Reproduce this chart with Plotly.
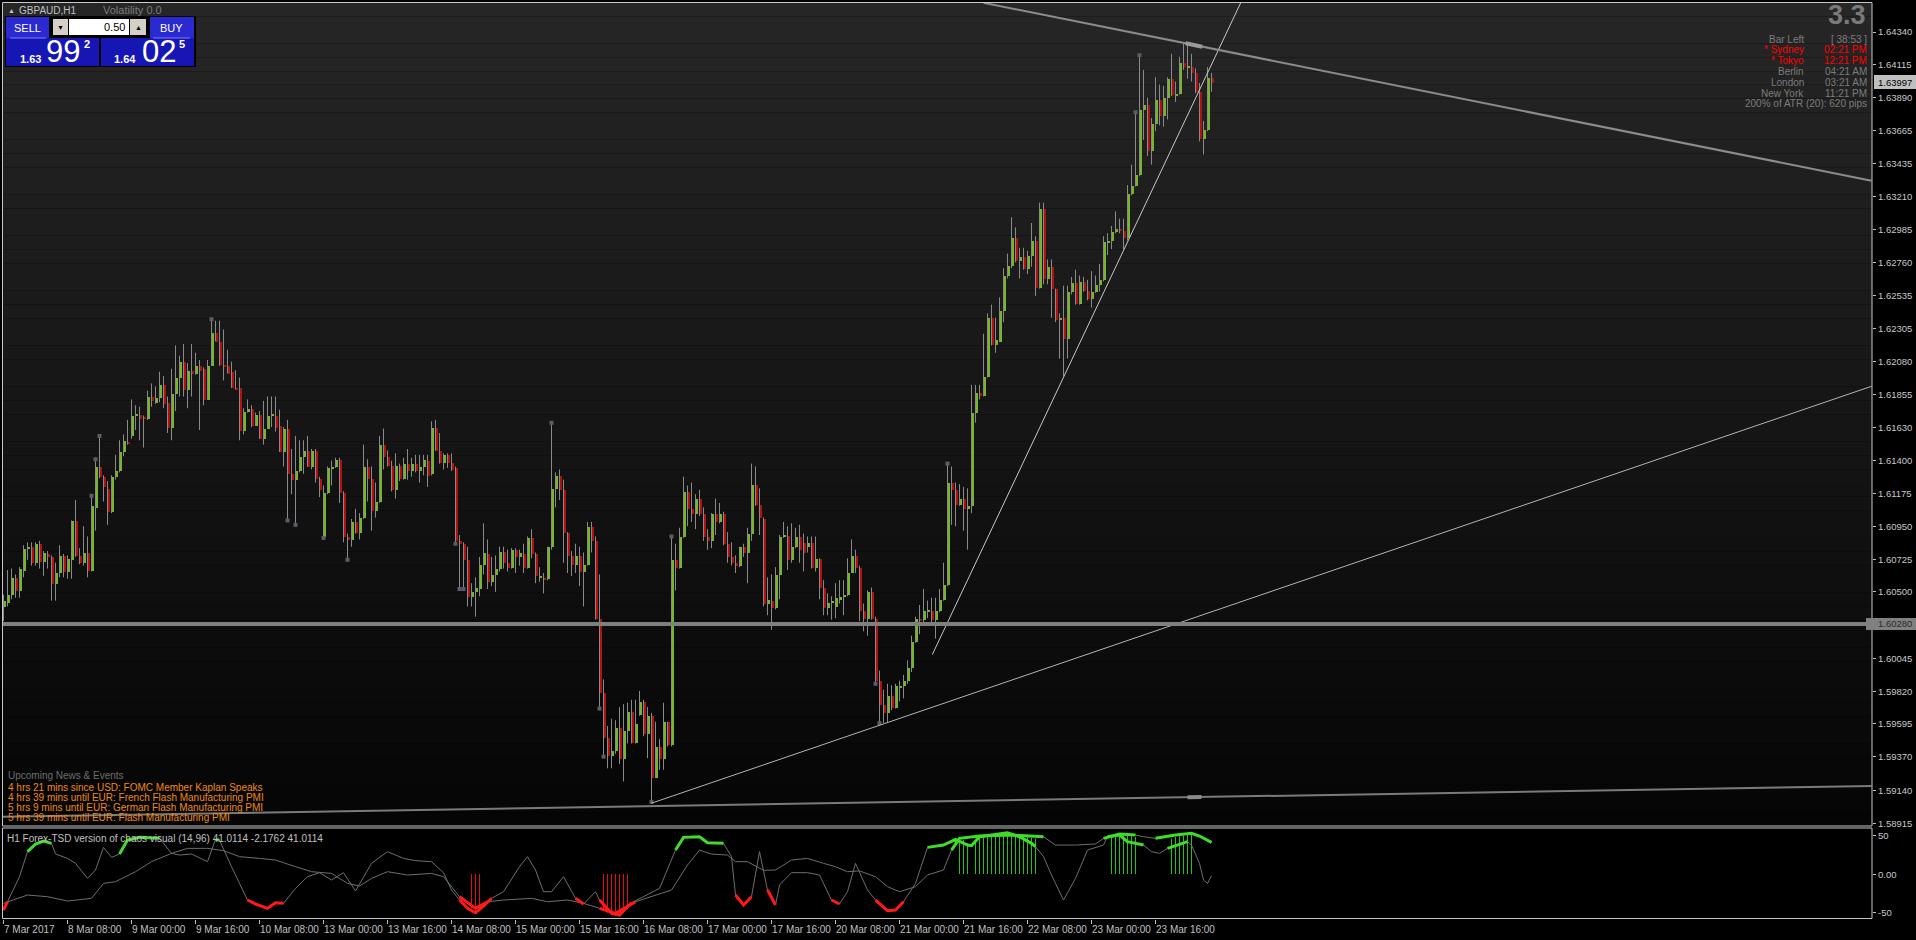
import plotly.graph_objects as go

W, H = 1916, 940

# ---------------- data (GBPAUD H1) ----------------
opens = [1.6040,1.6043,1.6048,1.6060,1.6051,1.6065,1.6080,1.6081,1.6070,1.6083,1.6071,1.6076,1.6074,1.6056,1.6063,1.6075,1.6064,1.6072,1.6099,1.6075,
1.6070,1.6077,1.6065,1.6108,1.6136,1.6129,1.6121,1.6105,1.6129,1.6133,1.6146,1.6153,1.6157,1.6171,1.6172,1.6170,1.6169,1.6184,1.6180,1.6183,
1.6192,1.6180,1.6163,1.6186,1.6197,1.6208,1.6189,1.6202,1.6200,1.6205,1.6203,1.6182,1.6205,1.6228,1.6222,1.6206,1.6205,1.6201,1.6190,1.6190,
1.6161,1.6174,1.6176,1.6164,1.6172,1.6155,1.6162,1.6171,1.6171,1.6164,1.6146,1.6162,1.6131,1.6127,1.6133,1.6143,1.6147,1.6136,1.6147,1.6128,
1.6088,1.6118,1.6135,1.6136,1.6141,1.6118,1.6088,1.6086,1.6098,1.6091,1.6101,1.6136,1.6128,1.6106,1.6112,1.6151,1.6143,1.6137,1.6120,1.6137,
1.6128,1.6138,1.6133,1.6138,1.6133,1.6136,1.6140,1.6131,1.6163,1.6147,1.6139,1.6144,1.6139,1.6135,1.6085,1.6083,1.6072,1.6047,1.6050,1.6052,
1.6069,1.6076,1.6057,1.6062,1.6066,1.6078,1.6070,1.6067,1.6079,1.6074,1.6076,1.6067,1.6087,1.6076,1.6060,1.6060,1.6059,1.6081,1.6121,1.6130,
1.6120,1.6091,1.6075,1.6069,1.6075,1.6064,1.6069,1.6095,1.6085,1.6032,1.5981,1.5950,1.5938,1.5941,1.5957,1.5936,1.5955,1.5968,1.5947,1.5966,
1.5975,1.5953,1.5965,1.5923,1.5944,1.5936,1.5961,1.5945,1.6072,1.6067,1.6088,1.6119,1.6107,1.6104,1.6114,1.6104,1.6088,1.6085,1.6104,1.6098,
1.6104,1.6083,1.6074,1.6070,1.6068,1.6081,1.6077,1.6090,1.6124,1.6110,1.6100,1.6042,1.6044,1.6039,1.6062,1.6088,1.6089,1.6072,1.6081,1.6088,
1.6084,1.6081,1.6084,1.6067,1.6073,1.6053,1.6039,1.6043,1.6040,1.6045,1.6047,1.6048,1.6063,1.6075,1.6067,1.6037,1.6032,1.6050,1.6032,1.5989,
1.5973,1.5967,1.5979,1.5971,1.5985,1.5986,1.5989,1.5998,1.6016,1.6032,1.6031,1.6037,1.6037,1.6031,1.6037,1.6045,1.6055,1.6125,1.6120,1.6110,
1.6114,1.6107,1.6109,1.6173,1.6187,1.6185,1.6198,1.6238,1.6220,1.6222,1.6243,1.6267,1.6274,1.6293,1.6277,1.6280,1.6272,1.6281,1.6291,1.6259,
1.6313,1.6265,1.6273,1.6258,1.6237,1.6238,1.6224,1.6256,1.6262,1.6248,1.6263,1.6257,1.6251,1.6256,1.6261,1.6264,1.6290,1.6291,1.6297,1.6299,
1.6298,1.6293,1.6323,1.6329,1.6336,1.6381,1.6384,1.6353,1.6371,1.6388,1.6377,1.6389,1.6402,1.6391,1.6392,1.6413,1.6410,1.6410,1.6406,1.6393,
1.6361,1.6367,1.6403]
highs = [1.6048,1.6065,1.6066,1.6062,1.6067,1.6082,1.6084,1.6084,1.6084,1.6085,1.6078,1.6078,1.6075,1.6070,1.6082,1.6076,1.6075,1.6099,1.6113,1.6080,
1.6095,1.6088,1.6116,1.6141,1.6157,1.6130,1.6126,1.6130,1.6144,1.6154,1.6158,1.6168,1.6182,1.6178,1.6177,1.6171,1.6188,1.6193,1.6191,1.6201,
1.6198,1.6184,1.6203,1.6219,1.6212,1.6220,1.6207,1.6220,1.6214,1.6209,1.6204,1.6209,1.6237,1.6236,1.6236,1.6230,1.6216,1.6208,1.6202,1.6197,
1.6176,1.6182,1.6178,1.6173,1.6174,1.6181,1.6184,1.6184,1.6184,1.6175,1.6163,1.6168,1.6148,1.6157,1.6154,1.6154,1.6157,1.6148,1.6148,1.6129,
1.6123,1.6136,1.6140,1.6142,1.6142,1.6119,1.6090,1.6100,1.6107,1.6104,1.6151,1.6141,1.6136,1.6125,1.6157,1.6162,1.6147,1.6140,1.6145,1.6138,
1.6142,1.6148,1.6142,1.6144,1.6144,1.6144,1.6144,1.6167,1.6168,1.6159,1.6145,1.6145,1.6145,1.6136,1.6089,1.6084,1.6081,1.6056,1.6060,1.6074,
1.6097,1.6086,1.6074,1.6075,1.6081,1.6081,1.6079,1.6080,1.6080,1.6079,1.6083,1.6088,1.6093,1.6077,1.6067,1.6063,1.6081,1.6166,1.6132,1.6134,
1.6127,1.6091,1.6078,1.6083,1.6081,1.6077,1.6098,1.6098,1.6088,1.6062,1.5990,1.5958,1.5963,1.5962,1.5971,1.5973,1.5974,1.5976,1.5976,1.5982,
1.5976,1.5971,1.5967,1.5961,1.5949,1.5974,1.5961,1.6088,1.6083,1.6094,1.6129,1.6123,1.6125,1.6117,1.6120,1.6108,1.6093,1.6104,1.6114,1.6111,
1.6105,1.6091,1.6084,1.6075,1.6081,1.6083,1.6094,1.6138,1.6136,1.6121,1.6101,1.6060,1.6062,1.6067,1.6089,1.6098,1.6095,1.6097,1.6094,1.6096,
1.6090,1.6088,1.6088,1.6088,1.6073,1.6058,1.6049,1.6047,1.6056,1.6058,1.6058,1.6073,1.6086,1.6079,1.6068,1.6042,1.6051,1.6053,1.6033,1.5996,
1.5983,1.5987,1.5986,1.5987,1.5989,1.5993,1.6003,1.6020,1.6033,1.6041,1.6052,1.6044,1.6046,1.6046,1.6052,1.6070,1.6138,1.6136,1.6125,1.6124,
1.6122,1.6121,1.6192,1.6192,1.6192,1.6227,1.6241,1.6247,1.6238,1.6252,1.6272,1.6282,1.6307,1.6300,1.6286,1.6286,1.6284,1.6303,1.6294,1.6317,
1.6317,1.6278,1.6278,1.6258,1.6241,1.6260,1.6260,1.6266,1.6271,1.6267,1.6266,1.6264,1.6270,1.6267,1.6275,1.6294,1.6296,1.6301,1.6311,1.6306,
1.6306,1.6329,1.6343,1.6379,1.6418,1.6408,1.6389,1.6375,1.6403,1.6398,1.6397,1.6403,1.6419,1.6400,1.6417,1.6426,1.6426,1.6419,1.6409,1.6399,
1.6373,1.6410,1.6406]
lows = [1.6030,1.6040,1.6045,1.6046,1.6046,1.6060,1.6072,1.6068,1.6068,1.6066,1.6061,1.6066,1.6044,1.6044,1.6060,1.6060,1.6059,1.6059,1.6074,1.6069,
1.6068,1.6060,1.6064,1.6092,1.6128,1.6112,1.6096,1.6104,1.6127,1.6132,1.6143,1.6151,1.6155,1.6161,1.6154,1.6149,1.6168,1.6177,1.6179,1.6180,
1.6176,1.6159,1.6154,1.6174,1.6184,1.6184,1.6176,1.6184,1.6199,1.6161,1.6178,1.6182,1.6205,1.6222,1.6205,1.6195,1.6200,1.6190,1.6189,1.6154,
1.6158,1.6173,1.6163,1.6164,1.6155,1.6151,1.6162,1.6163,1.6160,1.6146,1.6136,1.6099,1.6117,1.6096,1.6132,1.6131,1.6136,1.6134,1.6125,1.6115,
1.6087,1.6117,1.6123,1.6135,1.6111,1.6084,1.6072,1.6081,1.6090,1.6086,1.6100,1.6112,1.6092,1.6101,1.6111,1.6134,1.6136,1.6119,1.6114,1.6126,
1.6127,1.6127,1.6129,1.6132,1.6125,1.6130,1.6122,1.6130,1.6147,1.6138,1.6134,1.6135,1.6133,1.6083,1.6052,1.6052,1.6040,1.6040,1.6033,1.6047,
1.6062,1.6052,1.6054,1.6050,1.6064,1.6066,1.6064,1.6066,1.6063,1.6068,1.6063,1.6066,1.6073,1.6056,1.6057,1.6049,1.6058,1.6079,1.6108,1.6113,
1.6070,1.6063,1.6061,1.6063,1.6054,1.6040,1.6068,1.6077,1.6031,1.5970,1.5937,1.5929,1.5929,1.5939,1.5932,1.5920,1.5946,1.5946,1.5946,1.5965,
1.5951,1.5936,1.5906,1.5923,1.5928,1.5928,1.5944,1.5944,1.6051,1.6066,1.6087,1.6095,1.6098,1.6093,1.6102,1.6085,1.6079,1.6080,1.6089,1.6097,
1.6082,1.6070,1.6068,1.6063,1.6067,1.6074,1.6056,1.6085,1.6109,1.6089,1.6040,1.6034,1.6024,1.6038,1.6045,1.6087,1.6065,1.6070,1.6080,1.6070,
1.6064,1.6077,1.6066,1.6064,1.6045,1.6034,1.6034,1.6031,1.6032,1.6042,1.6034,1.6047,1.6063,1.6063,1.6030,1.6023,1.6020,1.6031,1.5987,1.5960,
1.5960,1.5960,1.5969,1.5970,1.5975,1.5977,1.5987,1.5995,1.6015,1.6021,1.6028,1.6032,1.6028,1.6018,1.6036,1.6044,1.6054,1.6096,1.6095,1.6109,
1.6092,1.6079,1.6104,1.6166,1.6182,1.6184,1.6197,1.6219,1.6214,1.6222,1.6235,1.6265,1.6272,1.6276,1.6265,1.6271,1.6268,1.6273,1.6253,1.6258,
1.6261,1.6261,1.6238,1.6235,1.6210,1.6198,1.6210,1.6254,1.6247,1.6247,1.6256,1.6250,1.6245,1.6255,1.6256,1.6263,1.6281,1.6285,1.6296,1.6296,
1.6285,1.6291,1.6322,1.6328,1.6335,1.6360,1.6349,1.6343,1.6366,1.6370,1.6369,1.6374,1.6390,1.6386,1.6391,1.6408,1.6402,1.6400,1.6392,1.6359,
1.6350,1.6366,1.6393]
closes = [1.6044,1.6048,1.6060,1.6051,1.6066,1.6080,1.6081,1.6070,1.6083,1.6071,1.6077,1.6074,1.6056,1.6063,1.6075,1.6064,1.6073,1.6099,1.6075,1.6070,
1.6077,1.6065,1.6109,1.6136,1.6129,1.6122,1.6105,1.6129,1.6133,1.6146,1.6154,1.6152,1.6171,1.6172,1.6169,1.6169,1.6184,1.6181,1.6183,1.6192,
1.6179,1.6163,1.6186,1.6197,1.6208,1.6189,1.6202,1.6200,1.6205,1.6202,1.6182,1.6205,1.6228,1.6222,1.6206,1.6205,1.6200,1.6190,1.6189,1.6161,
1.6174,1.6176,1.6164,1.6172,1.6155,1.6162,1.6171,1.6172,1.6163,1.6146,1.6162,1.6131,1.6127,1.6133,1.6143,1.6147,1.6136,1.6147,1.6128,1.6120,
1.6118,1.6135,1.6136,1.6141,1.6118,1.6088,1.6086,1.6098,1.6091,1.6101,1.6136,1.6128,1.6106,1.6112,1.6151,1.6143,1.6137,1.6120,1.6137,1.6128,
1.6138,1.6133,1.6138,1.6133,1.6136,1.6141,1.6130,1.6163,1.6147,1.6139,1.6144,1.6139,1.6134,1.6085,1.6083,1.6072,1.6047,1.6050,1.6053,1.6069,
1.6077,1.6057,1.6062,1.6066,1.6078,1.6070,1.6067,1.6079,1.6074,1.6077,1.6067,1.6087,1.6076,1.6061,1.6060,1.6059,1.6081,1.6121,1.6130,1.6120,
1.6091,1.6075,1.6069,1.6075,1.6064,1.6069,1.6095,1.6085,1.6032,1.5981,1.5950,1.5938,1.5941,1.5957,1.5936,1.5955,1.5968,1.5947,1.5960,1.5975,
1.5953,1.5965,1.5923,1.5944,1.5936,1.5961,1.5945,1.6072,1.6067,1.6088,1.6119,1.6107,1.6104,1.6114,1.6104,1.6088,1.6085,1.6104,1.6098,1.6104,
1.6083,1.6074,1.6070,1.6068,1.6081,1.6077,1.6090,1.6124,1.6110,1.6101,1.6042,1.6045,1.6039,1.6062,1.6088,1.6089,1.6072,1.6081,1.6088,1.6079,
1.6077,1.6084,1.6067,1.6073,1.6053,1.6039,1.6043,1.6044,1.6046,1.6047,1.6048,1.6063,1.6075,1.6067,1.6037,1.6032,1.6050,1.6032,1.5989,1.5973,
1.5967,1.5979,1.5971,1.5986,1.5986,1.5989,1.5998,1.6016,1.6032,1.6031,1.6037,1.6038,1.6031,1.6037,1.6045,1.6055,1.6125,1.6120,1.6110,1.6114,
1.6107,1.6109,1.6173,1.6187,1.6185,1.6198,1.6238,1.6220,1.6223,1.6243,1.6267,1.6274,1.6293,1.6277,1.6280,1.6272,1.6281,1.6291,1.6259,1.6313,
1.6265,1.6273,1.6258,1.6237,1.6238,1.6224,1.6256,1.6262,1.6248,1.6263,1.6257,1.6251,1.6256,1.6261,1.6264,1.6290,1.6291,1.6297,1.6299,1.6298,
1.6293,1.6323,1.6329,1.6336,1.6381,1.6384,1.6353,1.6371,1.6388,1.6377,1.6389,1.6402,1.6391,1.6392,1.6413,1.6410,1.6410,1.6406,1.6393,1.6361,
1.6367,1.6403,1.63997]

# swing markers (bar index)
mark_high_bars = [22, 23, 24, 52, 137, 167, 236, 283, 284]
mark_low_bars = [71, 73, 80, 86, 113, 114, 115, 149, 150, 162, 218, 219]

# indicator: fast line (bar index, value)
fast_bars = [0, 1, 4, 6, 8, 10, 12, 13, 16, 18, 21, 23, 25, 27, 29, 31, 34, 39, 42, 44, 47, 51, 53, 54, 57,
             61, 63, 66, 68, 70, 73, 76, 79, 82, 85, 88, 92, 96, 100, 103, 107, 110, 112, 114, 116, 118, 120,
             122, 125, 129, 131, 133, 135, 137, 140, 143, 145, 148, 149, 152, 154, 157, 160, 164, 168, 170,
             174, 176, 180, 182, 183, 185, 187, 189, 191, 193, 194, 197, 201, 204, 207, 209, 211, 213, 216,
             218, 221, 223, 225, 228, 231, 235, 238, 241, 242, 244, 251, 254, 257, 258, 260, 262, 265, 268,
             271, 275, 276, 279, 281, 283, 285, 287, 289, 291, 295, 296, 297, 299, 300, 301, 302]
fast_vals = [-46.8, -36.0, -3.5, 29.0, 38.9, 42.8, 39.8, 26.0, 20.3, 13.8, -5.7, 5.2, 34.6, 21.6, 26.0, 44.1,
             47.6, 46.3, 26.8, 24.6, 26.0, 16.0, 45.0, 44.0, 9.5, -33.8, -39.0, -44.6, -37.3, -38.1, -18.7,
             -3.5, 1.7, -7.8, 1.7, -22.0, 13.8, 29.0, 20.3, 17.3, 16.0, 1.7, -20.8, -33.8, -44.6, -50.3,
             -41.6, -31.6, -23.0, 9.5, 22.5, 5.2, -23.0, -23.0, -3.5, -31.6, -39.0, -23.0, -33.8, -51.1,
             -53.3, -37.3, -29.5, -18.7, 31.1, 47.6, 48.4, 40.6, 39.8, 22.5, -27.3, -40.3, -29.5, 29.0,
             -20.8, -40.3, -14.3, 1.7, 1.7, -1.3, -33.8, -39.0, -23.0, 13.8, -20.8, -33.8, -47.7, -46.8,
             -36.0, -12.2, 34.6, 37.6, 45.0, 37.6, 36.7, 48.4, 53.6, 48.4, 39.8, 35.5, 22.5, -1.3, -33.8,
             -5.7, 31.1, 37.6, 48.4, 50.6, 42.0, 39.8, 37.6, 29.0, 26.8, 33.3, 39.8, 42.0, 37.6, 13.8,
             -7.8, -12.2, -2.2]
# indicator: slow line (bar index, value)
slow_bars = [0, 6, 11, 16, 22, 25, 28, 33, 37, 42, 46, 51, 55, 59, 64, 68, 73, 77, 82, 86, 89, 92, 96, 101,
             107, 110, 114, 118, 121, 125, 132, 136, 141, 145, 149, 153, 158, 162, 167, 171, 174, 177, 181,
             183, 186, 190, 193, 197, 201, 205, 208, 211, 214, 218, 221, 224, 228, 231, 235, 237, 239, 244,
             252, 260, 263, 268, 273, 275, 279, 283, 285, 288, 293, 297, 299, 302]
slow_vals = [-38.1, -27.3, -29.5, -35.1, -31.6, -12.2, -10.0, 3.0, 16.0, 26.8, 33.3, 33.3, 30.3, 22.5, 20.3,
             18.1, 9.5, 3.0, 0.8, -12.2, -15.6, -5.7, 3.0, -1.3, 0.8, -3.5, -29.5, -44.6, -36.0, -33.8, -31.6,
             -36.0, -33.8, -38.1, -44.6, -51.1, -36.0, -29.5, -20.8, 11.6, 31.1, 25.9, 24.6, 16.0, 16.0, 4.8,
             5.2, 18.1, 20.3, 13.8, 9.5, 3.0, 4.0, -3.5, -16.5, -23.0, -16.5, -1.3, 5.2, 31.1, 46.3, 49.3,
             50.6, 48.4, 37.6, 37.6, 39.0, 46.3, 51.9, 50.6, 48.4, 46.3, 50.6, 52.8, 49.3, 41.0]
# highlighted stretches (bar ranges)
fast_green = [(6, 12), (29, 39), (53, 54), (168, 180), (231, 258), (276, 285), (291, 296)]
fast_red = [(0, 1), (61, 70), (114, 122), (143, 145), (149, 157), (183, 187), (191, 193), (207, 209), (218, 225)]
slow_green = [(237, 260), (275, 283), (288, 302)]
slow_red = [(114, 121), (149, 158)]
# histogram bars (bar index, value)
hist_green_bars = [239, 240, 241, 243, 244, 245, 246, 247, 248, 249, 250, 251, 252, 253, 254, 255, 256, 257, 258,
                   277, 278, 279, 280, 281, 282, 283, 292, 293, 294, 295, 296, 297]
hist_green_vals = [46, 44, 40, 42, 48, 50, 51, 52, 52, 52, 53, 53, 52, 51, 50, 49, 48, 47, 46,
                   50, 51, 52, 51, 50, 49, 48, 46, 48, 49, 50, 51, 51]
hist_red_bars = [117, 118, 119, 150, 151, 152, 153, 154, 155, 156]
hist_red_vals = [-45, -49, -45, -48, -51, -53, -54, -53, -50, -46]

# x axis labels (bar index -> text)
xlab_idx = [0, 16, 32, 48, 64, 80, 96, 112, 128, 144, 160, 176, 192, 208, 224, 240, 256, 272, 288]
xlab_txt = ["7 Mar 2017", "8 Mar 08:00", "9 Mar 00:00", "9 Mar 16:00", "10 Mar 08:00", "13 Mar 00:00",
            "13 Mar 16:00", "14 Mar 08:00", "15 Mar 00:00", "15 Mar 16:00", "16 Mar 08:00", "17 Mar 00:00",
            "17 Mar 16:00", "20 Mar 08:00", "21 Mar 00:00", "21 Mar 16:00", "22 Mar 08:00", "23 Mar 00:00",
            "23 Mar 16:00"]

price_ticks = [1.64340, 1.64115, 1.63890, 1.63665, 1.63435, 1.63210, 1.62985, 1.62760, 1.62535, 1.62305,
               1.62080, 1.61855, 1.61630, 1.61400, 1.61175, 1.60950, 1.60725, 1.60500, 1.60045, 1.59820,
               1.59595, 1.59370, 1.59140, 1.58915]
ind_ticks = [50, 0, -50]
ind_tick_txt = ["50", "0.00", "-50"]
current_price = 1.63997
hline_price = 1.60280

# trend lines: (bar index, price) pairs
downtrend = [(245.0, 1.6454), (467.0, 1.6332)]
steep_up = [(232.2, 1.6007), (309.3, 1.6454)]
low_up = [(161.9, 1.5905), (467.0, 1.6191)]
bottom_line = [(-0.8, 1.58957), (467.0, 1.59169)]
# selected-anchor handles on lines (bar index range)
downtrend_handle = (295.5, 299.7)
bottom_handle = (296.0, 299.5)

# ---------------- geometry helpers ----------------
def px(x):
    return x / W

def py(y):
    return 1 - y / H

PL, PR = 2.5, 1872.0          # plot left/right in px
PT, PB = 2.5, 826.0           # price panel top/bottom
IT, IB = 828.0, 918.5         # indicator panel top/bottom
k = 0.000068584               # price per px
y_top = 1.64340 + (32 - PT) * k
y_bot = 1.64340 - (PB - 32) * k
x_left = -0.25
x_right = x_left + (PR - PL) / 4.0
ind_top = (874 - IT) / 0.77
ind_bot = (874 - IB) / 0.77

GREEN = "#76b72a"
RED = "#b3100f"
WICK = "#8a8a8a"
HI_GREEN = "#3fdc2a"
HI_RED = "#ff1a1a"

fig = go.Figure()

n = len(closes)
idx = list(range(n))

# wicks
wx, wy = [], []
for i in idx:
    wx += [i, i, None]
    wy += [lows[i], highs[i], None]
fig.add_trace(go.Scatter(x=wx, y=wy, mode="lines", line=dict(color=WICK, width=1),
                         hoverinfo="skip", showlegend=False, xaxis="x", yaxis="y"))
# bodies
base = [min(o, c) for o, c in zip(opens, closes)]
hgt = [max(abs(c - o), 0.00007) for o, c in zip(opens, closes)]
cols = [GREEN if c >= o else RED for o, c in zip(opens, closes)]
fig.add_trace(go.Bar(x=idx, y=hgt, base=base, width=0.75, marker=dict(color=cols, line=dict(width=0)),
                     showlegend=False, hoverinfo="skip", xaxis="x", yaxis="y"))
# swing markers
fig.add_trace(go.Scatter(x=mark_high_bars, y=[highs[i] for i in mark_high_bars], mode="markers",
                         marker=dict(symbol="square", size=4, color="#5b5d6b", line=dict(width=0)),
                         showlegend=False, hoverinfo="skip", xaxis="x", yaxis="y"))
fig.add_trace(go.Scatter(x=mark_low_bars, y=[lows[i] for i in mark_low_bars], mode="markers",
                         marker=dict(symbol="square", size=4, color="#5b5d6b", line=dict(width=0)),
                         showlegend=False, hoverinfo="skip", xaxis="x", yaxis="y"))

# ---------------- indicator panel ----------------
hx, hy = [], []
for b, v in zip(hist_green_bars, hist_green_vals):
    hx += [b, b, None]
    hy += [0, v, None]
fig.add_trace(go.Scatter(x=hx, y=hy, mode="lines", line=dict(color="#22c41a", width=1),
                         hoverinfo="skip", showlegend=False, xaxis="x2", yaxis="y2"))
hx, hy = [], []
for b, v in zip(hist_red_bars, hist_red_vals):
    hx += [b, b, None]
    hy += [0, v, None]
fig.add_trace(go.Scatter(x=hx, y=hy, mode="lines", line=dict(color="#e01010", width=1),
                         hoverinfo="skip", showlegend=False, xaxis="x2", yaxis="y2"))

for bars, vals in ((slow_bars, slow_vals), (fast_bars, fast_vals)):
    fig.add_trace(go.Scatter(x=bars, y=vals, mode="lines", line=dict(color="#6e6e6e", width=1),
                             hoverinfo="skip", showlegend=False, xaxis="x2", yaxis="y2"))

def highlight(bars, vals, ranges, color):
    xs, ys = [], []
    for a, b in ranges:
        seg = [(x, v) for x, v in zip(bars, vals) if a <= x <= b]
        if len(seg) == 1:
            seg = seg * 2
        for x, v in seg:
            xs.append(x)
            ys.append(v)
        xs.append(None)
        ys.append(None)
    fig.add_trace(go.Scatter(x=xs, y=ys, mode="lines", line=dict(color=color, width=3),
                             hoverinfo="skip", showlegend=False, xaxis="x2", yaxis="y2"))

highlight(slow_bars, slow_vals, slow_green, HI_GREEN)
highlight(slow_bars, slow_vals, slow_red, HI_RED)
highlight(fast_bars, fast_vals, fast_green, HI_GREEN)
highlight(fast_bars, fast_vals, fast_red, HI_RED)

shapes = []
# background gradient for price panel
NB = 60
for b in range(NB):
    t0 = PT + (PB - PT) * b / NB
    t1 = PT + (PB - PT) * (b + 1) / NB
    f = (b + 0.5) / NB
    c = int(round(38 - 33 * f))
    shapes.append(dict(type="rect", xref="paper", yref="paper", x0=px(PL), x1=px(PR), y0=py(t1), y1=py(t0),
                       fillcolor=f"rgb({c},{c},{c})", line=dict(width=0), layer="below"))

# trend lines
def seg(p, color, width):
    return dict(type="line", xref="x", yref="y", x0=p[0][0], y0=p[0][1], x1=p[1][0], y1=p[1][1],
                line=dict(color=color, width=width), layer="above")

def on_line(p, xa):
    (x0, y0), (x1, y1) = p
    return y0 + (y1 - y0) * (xa - x0) / (x1 - x0)

def handle(p, rng, color):
    a, b = rng
    return dict(type="line", xref="x", yref="y", x0=a, y0=on_line(p, a), x1=b, y1=on_line(p, b),
                line=dict(color=color, width=4), layer="above")

shapes.append(seg(bottom_line, "#7a7a7a", 2))
shapes.append(seg(low_up, "#b4b4b4", 1))
shapes.append(seg(steep_up, "#c8c8c8", 1))
shapes.append(seg(downtrend, "#8c8c8c", 2))
shapes.append(handle(downtrend, downtrend_handle, "#9a9a9a"))
shapes.append(handle(bottom_line, bottom_handle, "#8a8a8a"))
shapes.append(dict(type="line", xref="x", yref="y", x0=x_left - 2, x1=x_right + 2, y0=hline_price, y1=hline_price,
                   line=dict(color="#7f7f7f", width=4), layer="above"))

# panel frames
BORDER = "#c8c8c8"
shapes.append(dict(type="rect", xref="paper", yref="paper", x0=px(PL), x1=px(PR), y0=py(PB), y1=py(PT),
                   line=dict(color=BORDER, width=1), fillcolor="rgba(0,0,0,0)"))
shapes.append(dict(type="rect", xref="paper", yref="paper", x0=px(PL), x1=px(PR), y0=py(IB), y1=py(IT),
                   line=dict(color=BORDER, width=1), fillcolor="rgba(0,0,0,0)"))

annotations = []
FONT = "Liberation Sans, Arial, sans-serif"

def txt(x, y, s, size=10, color="#c0c0c0", xanchor="left", yanchor="middle", bold=False, family=FONT):
    if bold:
        s = "<b>" + s + "</b>"
    annotations.append(dict(x=px(x), y=py(y), xref="paper", yref="paper", text=s, showarrow=False,
                            xanchor=xanchor, yanchor=yanchor, borderpad=0,
                            font=dict(size=size, color=color, family=family)))

def box(x0, y0, x1, y1, fill, line=None, layer="above"):
    shapes.append(dict(type="rect", xref="paper", yref="paper", x0=px(x0), x1=px(x1), y0=py(y1), y1=py(y0),
                       fillcolor=fill, line=dict(width=1 if line else 0, color=line or fill), layer=layer))

# right axis tick labels
for v in price_ticks:
    annotations.append(dict(x=px(1877), y=v, xref="paper", yref="y", text=f"{v:.5f}", showarrow=False,
                            xanchor="left", yanchor="middle", borderpad=0,
                            font=dict(size=9.5, color="#c8c8c8", family=FONT)))
for v, s in zip(ind_ticks, ind_tick_txt):
    annotations.append(dict(x=px(1877), y=v, xref="paper", yref="y2", text=s, showarrow=False,
                            xanchor="left", yanchor="middle", borderpad=0,
                            font=dict(size=9.5, color="#c8c8c8", family=FONT)))

cp_y = 32 + (1.64340 - current_price) / k
box(1874, cp_y - 7, 1916, cp_y + 7, "#c0c0c0")
txt(1877, cp_y, f"{current_price:.5f}", size=9.5, color="#000000")
hl_y = 32 + (1.64340 - hline_price) / k
box(1866, hl_y - 6, 1916, hl_y + 6, "#808080")
txt(1877, hl_y, f"{hline_price:.5f}", size=9.5, color="#2a2a2a")

# top-left trade panel
txt(7, 10.5, "▲", size=7, color="#c0c0c0")
txt(18, 10.5, "GBPAUD,H1", size=10, color="#c0c0c0")
txt(102, 10.5, "Volatility 0.0", size=11, color="#7c7c7c")
box(5, 16, 196, 67, "#000000")
box(6, 17, 49, 38, "#2a2ad0")
box(150, 17, 194, 38, "#2a2ad0")
box(6, 38, 99, 66, "#1616b4")
box(101, 38, 194, 66, "#1616b4")
shapes.append(dict(type="line", xref="paper", yref="paper", x0=px(10), x1=px(46), y0=py(38), y1=py(38),
                   line=dict(color="#7f7fff", width=1)))
shapes.append(dict(type="line", xref="paper", yref="paper", x0=px(153), x1=px(190), y0=py(38), y1=py(38),
                   line=dict(color="#7f7fff", width=1)))
box(53, 19, 68, 35, "#d4d0c8")
box(69, 19, 129, 35, "#ffffff")
box(130, 19, 146, 35, "#d4d0c8")
txt(27.5, 28, "SELL", size=11, color="#ffffff", xanchor="center")
txt(171.5, 28, "BUY", size=11, color="#ffffff", xanchor="center")
txt(60.5, 27.5, "▼", size=7, color="#000000", xanchor="center")
txt(138, 27, "▲", size=7, color="#000000", xanchor="center")
txt(126, 27, "0.50", size=11, color="#000000", xanchor="right")
txt(31, 59.5, "1.63", size=11, color="#ffffff", xanchor="center", bold=True)
txt(62.5, 52, "99", size=31, color="#ffffff", xanchor="center")
txt(87, 44, "2", size=11, color="#ffffff", xanchor="center", bold=True)
txt(125, 59.5, "1.64", size=11, color="#ffffff", xanchor="center", bold=True)
txt(158.5, 52, "02", size=31, color="#ffffff", xanchor="center")
txt(181.5, 44, "5", size=11, color="#ffffff", xanchor="center", bold=True)

# top-right info block
txt(1867, 15, "3.3", size=27, color="#7a7a7a", xanchor="right", bold=True)
info_rows = [("Bar Left", "[ 38:53 ]", "#7c7c7c"), ("* Sydney", "02:21 PM", "#ff0000"),
             ("* Tokyo", "12:21 PM", "#ff0000"), ("Berlin", "04:21 AM", "#7c7c7c"),
             ("London", "03:21 AM", "#7c7c7c"), ("New York", "11:21 PM", "#7c7c7c")]
for r, (a, b, c) in enumerate(info_rows):
    yy = 39 + r * 10.8
    txt(1805, yy, a, size=10, color=c, xanchor="right")
    txt(1867.5, yy, b, size=10, color=c, xanchor="right")
txt(1867.5, 104, "200% of ATR (20): 620 pips", size=10, color="#7c7c7c", xanchor="right")

# news block
txt(7, 775, "Upcoming News &amp; Events", size=10, color="#6e6e6e")
news = ["4 hrs 21 mins since USD: FOMC Member Kaplan Speaks",
        "4 hrs 39 mins until EUR: French Flash Manufacturing PMI",
        "5 hrs 9 mins until EUR: German Flash Manufacturing PMI",
        "5 hrs 39 mins until EUR: Flash Manufacturing PMI"]
for r, s in enumerate(news):
    txt(7, 787 + r * 10.2, s, size=10, color="#f08a12")

# indicator label
txt(6, 838, "H1 Forex-TSD version of chaos visual (14,96) 41.0114 -2.1762 41.0114", size=10, color="#c0c0c0")

# x axis labels (left-aligned at tick)
for i, s in zip(xlab_idx, xlab_txt):
    annotations.append(dict(x=i, y=py(929), xref="x2", yref="paper", text=s, showarrow=False,
                            xanchor="left", yanchor="middle", xshift=-1, borderpad=0,
                            font=dict(size=10, color="#c0c0c0", family=FONT)))

fig.update_layout(
    width=W, height=H, margin=dict(l=0, r=0, t=0, b=0),
    paper_bgcolor="#000000", plot_bgcolor="#000000",
    showlegend=False, bargap=0, hovermode=False,
    shapes=shapes, annotations=annotations,
    xaxis=dict(domain=[px(PL), px(PR)], range=[x_left, x_right], showgrid=False, zeroline=False,
               showticklabels=False, ticks="", anchor="y", fixedrange=True),
    yaxis=dict(domain=[py(PB), py(PT)], range=[y_bot, y_top], side="right", anchor="x",
               showgrid=False, zeroline=False, tickvals=price_ticks, showticklabels=False,
               ticks="outside", ticklen=3, tickcolor="#c0c0c0", fixedrange=True),
    xaxis2=dict(domain=[px(PL), px(PR)], range=[x_left, x_right], showgrid=False, zeroline=False,
                showticklabels=False, ticks="outside", ticklen=4, tickcolor="#c0c0c0",
                tickvals=xlab_idx, anchor="y2", matches="x"),
    yaxis2=dict(domain=[py(IB), py(IT)], range=[ind_bot, ind_top], side="right", anchor="x2",
                showgrid=False, zeroline=False, tickvals=ind_ticks, showticklabels=False,
                ticks="outside", ticklen=3, tickcolor="#c0c0c0", fixedrange=True),
)

fig.write_html("out.html", config={"displayModeBar": False},
               post_script="document.body.style.margin='0';document.body.style.overflow='hidden';")
